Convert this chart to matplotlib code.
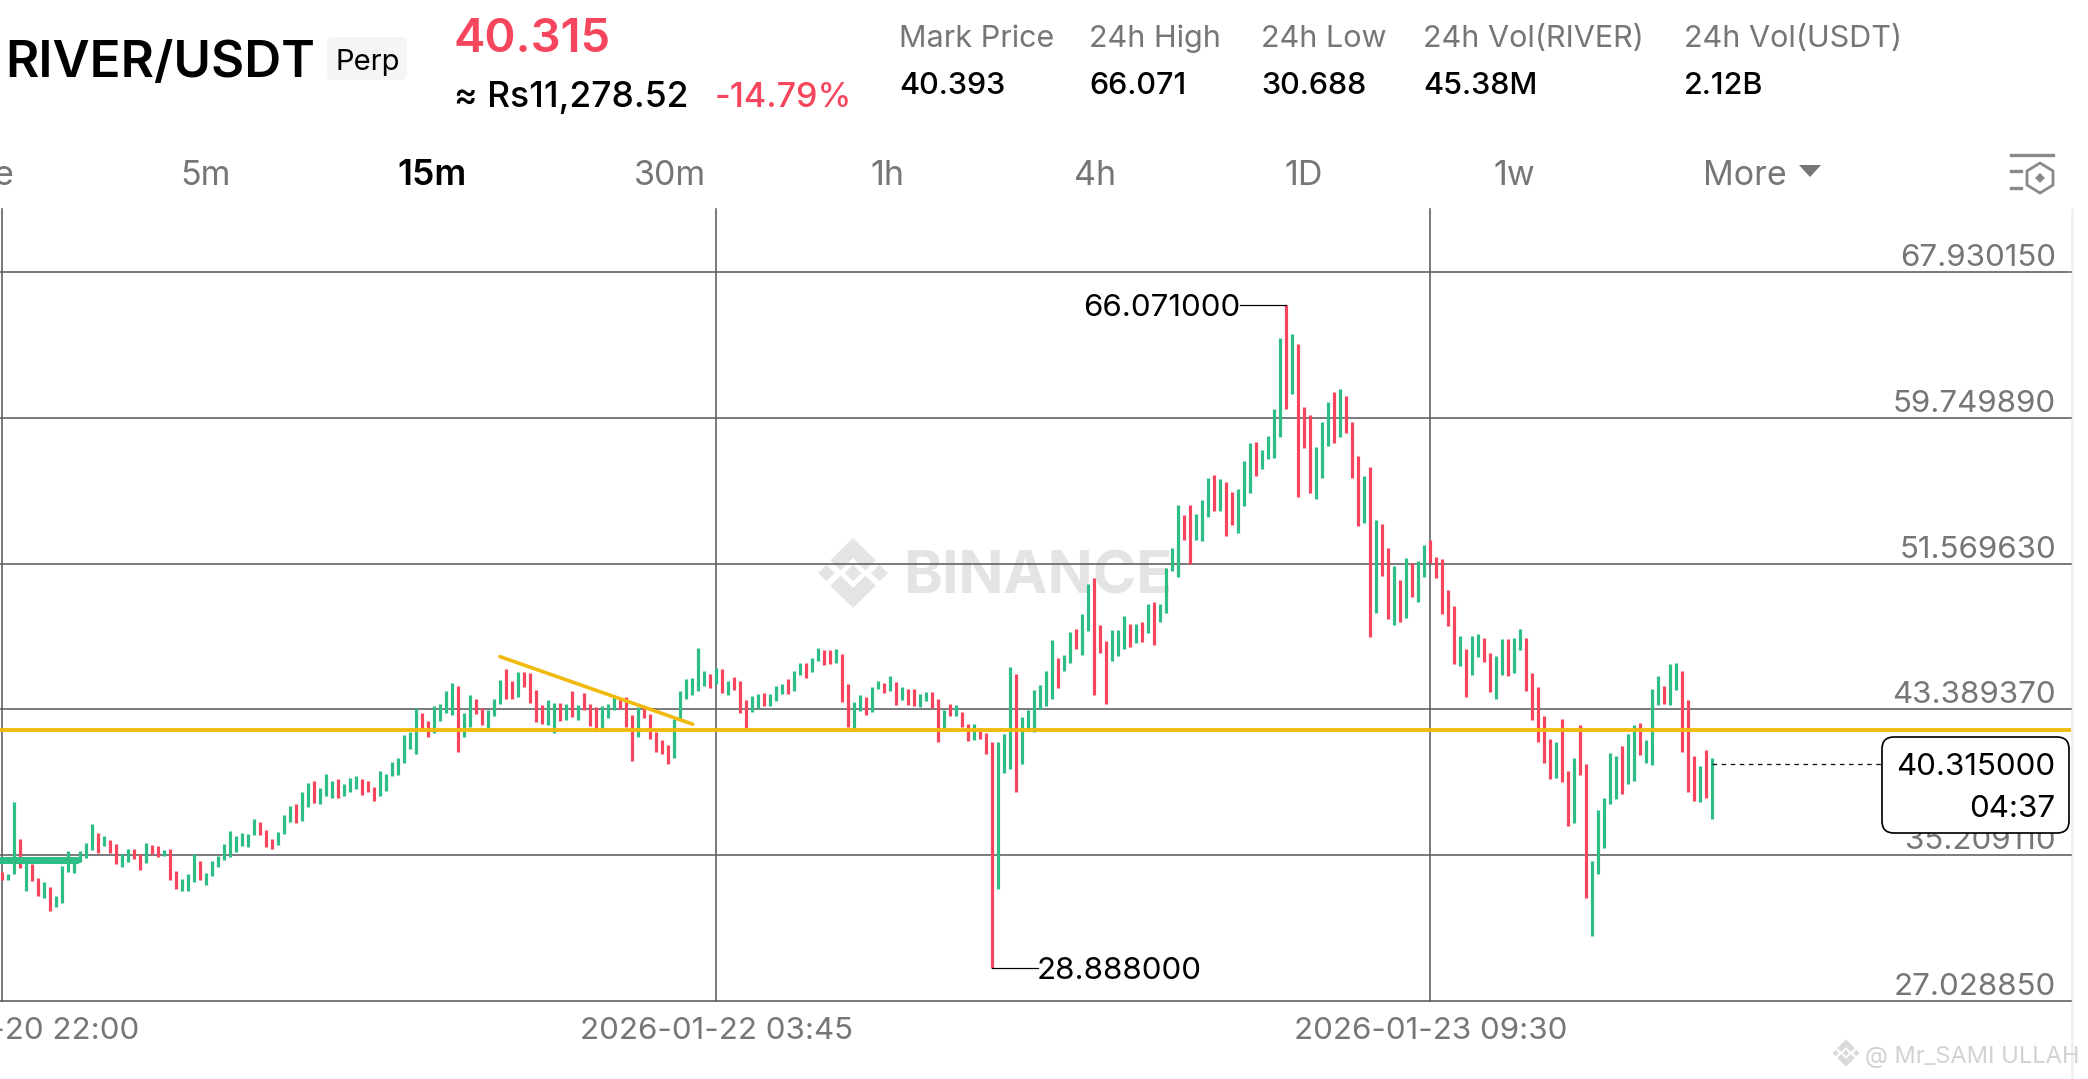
import matplotlib
matplotlib.use("Agg")
import matplotlib.pyplot as plt
import matplotlib.transforms as mtrans
from matplotlib.patches import Polygon, FancyBboxPatch, Rectangle

plt.rcParams['font.family'] = ['Inter', 'DejaVu Sans']

highs = [34.24,34.13,38.17,36.10,34.86,34.69,33.91,33.72,33.40,32.90,
 34.62,35.46,34.92,35.46,35.87,36.94,36.43,36.30,36.08,35.85,
 35.27,35.57,35.57,35.25,35.91,35.80,35.70,35.52,35.55,34.34,
 33.89,34.17,35.25,34.90,34.23,34.90,35.14,35.85,36.56,36.30,
 36.45,36.41,37.26,37.05,36.64,36.10,36.53,37.48,37.98,38.06,
 38.77,39.24,39.35,38.96,39.74,39.40,39.46,39.18,39.55,39.63,
 39.46,39.40,39.05,39.91,39.74,40.45,40.68,41.97,42.13,43.48,
 43.20,42.75,43.59,43.67,44.43,44.88,44.71,43.16,44.21,43.98,
 43.46,43.33,43.95,45.05,45.67,44.96,45.46,45.46,45.42,44.49,
 43.65,43.93,43.76,43.76,43.70,44.40,43.65,44.32,43.70,43.54,
 43.59,43.72,44.06,44.04,44.10,43.07,43.50,43.59,43.11,42.10,
 41.70,41.39,42.86,44.41,45.11,45.16,46.86,45.56,45.35,45.72,
 45.65,44.96,45.22,45.01,43.93,44.12,44.23,44.32,44.28,44.71,
 44.79,45.11,45.52,46.02,46.00,46.28,46.85,46.73,46.70,46.79,
 46.49,44.83,43.82,44.21,44.08,44.66,44.96,44.85,45.24,44.94,
 44.66,44.51,44.55,44.25,44.34,44.34,43.95,43.37,43.67,43.65,
 43.26,42.55,42.55,42.36,42.04,41.57,41.54,41.99,45.78,45.35,
 42.98,43.37,44.49,44.77,45.56,47.26,46.25,46.44,47.74,47.91,
 48.75,50.40,50.77,48.14,47.24,47.82,47.82,48.64,48.16,48.19,
 48.32,49.28,49.39,49.32,51.33,52.46,54.83,54.27,54.83,54.33,
 55.15,56.38,56.55,56.31,56.16,55.60,55.77,57.34,58.35,58.38,
 57.92,58.74,60.25,64.25,66.071,64.46,63.90,60.38,59.88,58.10,
 59.52,60.65,61.17,61.37,60.98,59.49,57.60,56.50,56.98,53.99,
 53.77,52.46,51.41,50.66,51.86,51.62,51.73,52.63,52.91,51.93,
 51.84,50.10,49.20,47.48,46.77,47.52,47.60,47.41,46.55,46.36,
 47.34,47.34,47.37,47.91,47.37,45.43,44.66,43.04,41.71,41.54,
 42.85,39.91,40.64,42.53,40.34,34.88,37.73,38.40,40.96,40.79,
 41.32,42.03,42.53,42.64,41.65,44.51,45.28,44.68,45.91,45.97,
 45.56,43.90,40.75,40.19,41.11,40.66]

lows = [33.83,33.83,34.13,34.47,33.22,33.76,32.94,32.81,32.08,32.30,
 32.53,34.24,34.23,34.82,35.07,35.52,35.33,35.72,35.33,34.73,
 34.54,34.81,34.99,34.36,34.77,35.25,35.12,35.16,33.83,33.31,
 33.20,33.22,33.68,33.83,33.52,34.02,34.54,34.96,35.11,35.39,
 35.70,35.67,36.32,36.36,35.68,35.55,35.78,36.38,37.07,37.03,
 37.12,37.91,38.13,38.08,38.53,38.40,38.40,38.53,38.75,38.92,
 38.60,38.73,38.25,38.53,38.81,39.67,39.70,40.36,41.14,40.88,
 42.17,41.84,42.06,42.73,43.18,43.05,40.99,41.84,42.40,43.12,
 42.51,42.32,43.01,43.67,44.00,43.98,44.08,44.62,43.74,42.66,
 42.55,42.49,42.06,42.75,42.77,42.96,42.77,43.35,42.45,42.25,
 42.28,42.92,43.33,43.39,42.41,40.49,41.84,42.90,41.72,40.99,
 40.90,40.34,40.68,42.83,44.00,44.17,44.40,44.71,44.58,44.79,
 44.30,44.19,44.47,43.18,42.32,43.24,43.46,43.56,43.56,43.84,
 44.27,44.27,44.41,45.31,45.16,45.46,46.10,45.87,45.91,46.01,
 43.82,42.40,42.29,43.28,43.09,43.24,44.51,44.32,44.42,43.63,
 43.91,43.63,43.59,43.50,43.84,43.48,41.56,42.25,43.01,43.01,
 42.42,41.59,41.65,41.72,40.88,28.888,33.33,39.80,40.04,38.75,
 40.32,42.30,42.14,43.39,43.56,43.97,44.60,45.54,45.99,46.79,
 46.42,47.80,44.19,46.57,43.71,46.12,46.38,46.79,46.88,47.11,
 47.18,47.67,47.00,48.29,48.79,51.15,50.81,52.87,51.56,52.87,
 52.81,54.18,54.51,54.51,53.11,53.75,53.30,54.79,55.52,56.51,
 56.87,57.45,57.49,58.66,60.23,61.08,55.30,58.05,55.54,55.19,
 56.38,58.18,58.33,58.65,58.91,56.40,53.67,53.84,47.43,48.78,
 50.85,48.48,48.12,48.29,48.51,49.69,49.41,50.81,51.62,50.76,
 48.72,48.08,45.93,45.80,44.08,45.32,46.33,46.05,44.38,43.97,
 45.30,45.26,45.41,46.70,44.42,42.81,41.54,40.36,39.50,39.54,
 39.31,36.83,37.01,39.69,32.81,30.68,34.17,35.59,38.06,38.36,
 38.64,39.20,39.37,40.83,40.36,40.29,43.63,43.67,43.63,44.49,
 41.00,38.75,38.23,38.19,38.40,37.22]

directions = ("RGGRGRRGRG" "GGGGGGRGRR" "GGRRGRRGRR" "GGGRGGGGGG" "GGGRRRGGGR"
              "GGRGGGRGGG" "RRRGGGGGGG" "RRGGGGRGGR" "RGGGRRGRRR" "RGGRGRGRRR"
              "GGGRRRGRRR" "RRGGGGGGRG" "RGRRRGGRGG" "GRGGRGGRRG" "RRGGRGGRGR"
              "GRRGGRRGRG" "RRGRRRGGGR" "GGGGGGRGGR" "GGRRRGGGRG" "RGRGGGGRRG"
              "GGRGRRGGGR" "GGGGRGRRRG" "GGRGRRRGRG" "RRGRGRGGRR" "RRRGRGGRRG"
              "GRGGRRRRRG" "RRGRRGGGGG" "RGGRGGGRGG" "RRRGRG")

price_ticks = [27.02885, 35.20911, 43.38937, 51.56963, 59.74989, 67.93015]
price_labels = ["27.028850", "35.209110", "43.389370", "51.569630", "59.749890", "67.930150"]
time_ticks = [0, 119, 238]
time_labels = ["2026-01-20 22:00", "2026-01-22 03:45", "2026-01-23 09:30"]

last_price = 40.315
support_price = 42.23
trend_x = [82.95, 115.06]
trend_y = [46.35, 42.56]
blob_price = 34.92
blob_starts = [-0.38, 4.0, 7.45, 11.0]
blob_ends = [3.8, 7.1, 10.8, 12.45]

GREEN, RED = "#2EBD85", "#F6465D"
GREY, GRID, YELLOW = "#767676", "#5B5E63", "#F0B90B"
W, H = 2088, 1079
PLOT_L, PLOT_R, PLOT_T, PLOT_B = 0, 2071, 209, 1001
PX = 72 / 100  # points per pixel

fig = plt.figure(figsize=(W / 100, H / 100), dpi=100, facecolor="white")

# background layer in pixel coordinates: header and watermarks
bg = fig.add_axes([0, 0, 1, 1], zorder=0)
bg.set_xlim(0, W); bg.set_ylim(H, 0); bg.axis("off")


def logo(a, cx, cy, s, color):
    k = s / 36.0
    chevron = [(0, -35), (22.7, -12.7), (12.3, -2.7), (0, -15), (-12.3, -2.7), (-22.7, -12.7)]
    for sign in (1, -1):
        a.add_patch(Polygon([(cx + k * x, cy + sign * k * y) for x, y in chevron], closed=True, color=color, lw=0))
    for dx in (-26.5, 0, 26.5):
        d = 8.3
        a.add_patch(Polygon([(cx + k * (dx - d), cy), (cx + k * dx, cy - k * d),
                             (cx + k * (dx + d), cy), (cx + k * dx, cy + k * d)], closed=True, color=color, lw=0))


logo(bg, 853, 573, 36, "#E4E4E4")
bg.text(903, 593, "BINANCE", fontsize=42.5, fontweight="bold", color="#E4E4E4", va="baseline", ha="left")
logo(bg, 1846, 1053, 14, "#DADADA")
bg.text(1865, 1063, "@ Mr_SAMI ULLAH", fontsize=17, color="#D2D2D2", va="baseline", ha="left")
bg.add_patch(Rectangle((2071, 209), 3, 870, color="#F1F1F1", lw=0))

def t(x, y, s, size, color="black", weight="normal", ha="left"):
    bg.text(x, y, s, fontsize=size, color=color, fontweight=weight, ha=ha, va="baseline")


t(5, 77, "RIVER/USDT", 36.8, weight=600)
bg.add_patch(FancyBboxPatch((331, 41), 72, 35, boxstyle="round,pad=4,rounding_size=6", color="#F5F5F5", lw=0))
t(336, 70, "Perp", 21)
t(454, 52, "40.315", 34, RED, 600)
t(454, 107, "≈ Rs11,278.52", 25.5, weight=500)
t(715, 107, "-14.79%", 24.5, RED, 500)
for x, lab, val in [(899, "Mark Price", "40.393"), (1089, "24h High", "66.071"), (1261, "24h Low", "30.688"),
                    (1423, "24h Vol(RIVER)", "45.38M"), (1684, "24h Vol(USDT)", "2.12B")]:
    t(x, 47, lab, 22, GREY)
    t(x, 94, val, 22, weight=500)
t(13, 185, "e", 24.5, GREY, ha="right")
for x, lab in [(180, "5m"), (634, "30m"), (870, "1h"), (1074, "4h"), (1284, "1D"), (1493, "1w"), (1703, "More")]:
    t(x, 185, lab, 24.5, GREY)
t(397, 185, "15m", 25.5, weight=600)
bg.add_patch(Polygon([(1799, 165), (1821, 165), (1810, 177)], closed=True, color=GREY, lw=0))
bg.plot([2011, 2053], [155, 155], color="#8A8A8A", lw=2.4)
bg.plot([2011, 2021], [171, 171], color="#8A8A8A", lw=2.4)
bg.plot([2011, 2021], [188, 188], color="#8A8A8A", lw=2.4)
bg.add_patch(Polygon([(2040, 163), (2053, 171), (2053, 185), (2040, 193), (2027, 185), (2027, 171)],
                     closed=True, fill=False, edgecolor="#8A8A8A", lw=2))
bg.add_patch(Polygon([(2040, 173), (2045, 178), (2040, 183), (2035, 178)], closed=True, color="#8A8A8A", lw=0))

# price chart
ax = fig.add_axes([PLOT_L / W, 1 - PLOT_B / H, (PLOT_R - PLOT_L) / W, (PLOT_B - PLOT_T) / H], zorder=1)
ax.patch.set_alpha(0)
scale = (1001 - 272) / (price_ticks[-1] - price_ticks[0])
ax.set_ylim(price_ticks[0], price_ticks[0] + (PLOT_B - PLOT_T) / scale)
ax.set_xlim(-2.3 / 6, (PLOT_R - 2.3) / 6)
for s in ax.spines.values():
    s.set_visible(False)

ax.set_xticks(time_ticks, time_labels)
ax.set_yticks(price_ticks, price_labels)
ax.yaxis.tick_right()
ax.tick_params(axis="y", length=0, pad=-15 * PX, labelsize=22.5, labelcolor=GREY)
ax.tick_params(axis="x", length=0, pad=16 * PX, labelsize=22.5, labelcolor=GREY)
nudge = mtrans.ScaledTranslation(0, 6 / 100, fig.dpi_scale_trans)
for lab in ax.get_yticklabels():
    lab.set_ha("right")
    lab.set_va("baseline")
    lab.set_transform(lab.get_transform() + nudge)
ax.set_axisbelow(True)
ax.grid(True, color=GRID, lw=1.6 * PX)
for g in ax.get_xgridlines() + ax.get_ygridlines():
    g.set_clip_on(False)

xs = list(range(len(highs)))
colors = [GREEN if d == "G" else RED for d in directions]
ax.vlines(xs, lows, highs, colors=colors, lw=3.2 * PX, capstyle="butt", zorder=3)
ax.hlines([blob_price] * len(blob_starts), blob_starts, blob_ends, colors=GREEN, lw=7 * PX,
          capstyle="round", zorder=4)
ax.axhline(support_price, color=YELLOW, lw=3.8 * PX, zorder=5)
ax.plot(trend_x, trend_y, color=YELLOW, lw=3.6 * PX, zorder=5, solid_capstyle="round")

peak_i = highs.index(max(highs))
trough_i = lows.index(min(lows))
span = 7.67
ax.plot([peak_i - span, peak_i], [highs[peak_i]] * 2, color="black", lw=1.2 * PX, zorder=4)
ax.plot([trough_i, trough_i + span], [lows[trough_i]] * 2, color="black", lw=1.2 * PX, zorder=4)
ax.text(peak_i - span, highs[peak_i], "66.071000", fontsize=22.5, ha="right", va="center_baseline", color="black")
ax.text(trough_i + span - 0.2, lows[trough_i], "28.888000", fontsize=22.5, ha="left", va="center_baseline", color="black")
ax.plot([len(highs) - 1, (1882 - 2.3) / 6], [last_price] * 2, color="#111111", lw=1.3 * PX,
        dashes=(3.5, 3.5), zorder=4)

# current price tag, drawn above the axis labels
top = fig.add_axes([0, 0, 1, 1], zorder=2)
top.set_xlim(0, W); top.set_ylim(H, 0); top.axis("off")
top.add_patch(FancyBboxPatch((1894, 749), 163, 72, boxstyle="round,pad=12,rounding_size=12",
                             facecolor="white", edgecolor="black", lw=1.7 * PX))
top.text(2055, 775, "40.315000", fontsize=22.5, ha="right", va="baseline", color="black")
top.text(2055, 817, "04:37", fontsize=22.5, ha="right", va="baseline", color="black")

fig.savefig("out.png", dpi=100, facecolor="white")
